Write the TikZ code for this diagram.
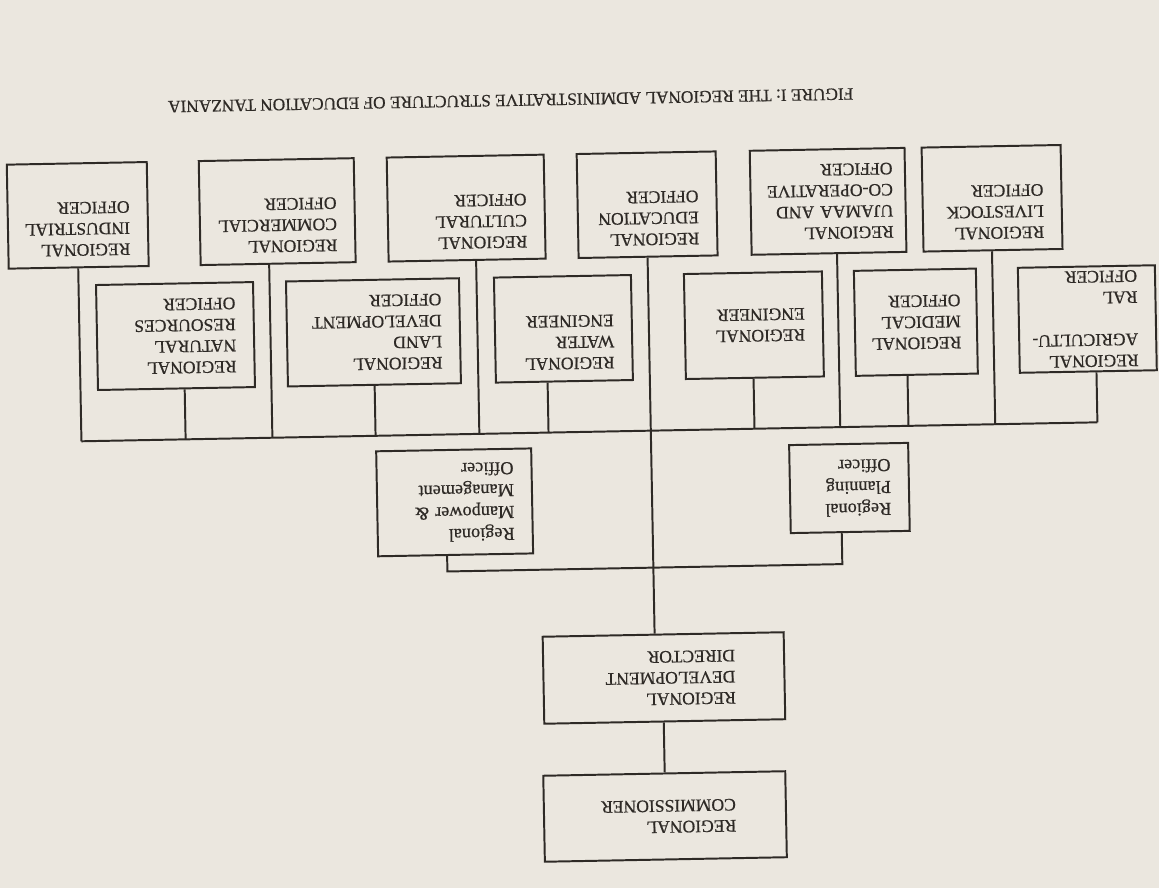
\documentclass[tikz,border=0pt]{standalone}
\usepackage{fontspec}
\setmainfont{Liberation Serif}[UprightFeatures={FakeBold=0.6}]
\definecolor{paper}{HTML}{EBE7DF}
\definecolor{ink}{HTML}{2E2A26}

\begin{document}
\begin{tikzpicture}[x=0.25mm,y=-0.25mm,
  ofc/.style={draw=ink,line width=1.4pt,rotate=181.07,align=left,text=ink,
    inner xsep=4.5mm,inner ysep=0pt,minimum height=26mm,
    font=\fontsize{12.5}{15}\selectfont},
  lowofc/.style={ofc,font=\fontsize{13}{15.6}\selectfont},
  link/.style={draw=ink,line width=1.4pt}]
\fill[paper] (0,0) rectangle (1159,888);
\useasboundingbox (0,0) rectangle (1159,888);
\begin{scope}[rotate around={1.07:(580,440)}]
\node[rotate=181.07,text=ink,font=\fontsize{12.3}{14}\selectfont] (title) at (517,99)
  {FIGURE I:\ THE REGIONAL ADMINISTRATIVE STRUCTURE OF EDUCATION TANZANIA};
\node[ofc,text width=26mm] (ind) at (82,206) {REGIONAL\\INDUSTRIAL\\OFFICER\\\strut};
\node[ofc,text width=29.75mm] (com) at (281.5,206) {REGIONAL\\COMMERCIAL\\OFFICER\\\strut};
\node[ofc,text width=30.25mm] (cul) at (470.5,206) {REGIONAL\\CULTURAL\\OFFICER\\\strut};
\node[ofc,text width=25.75mm] (edu) at (651.5,206) {REGIONAL\\EDUCATION\\OFFICER\\\strut};
\node[ofc,text width=32.5mm,inner xsep=3.1mm] (uja) at (832.5,206) {REGIONAL\\UJAMAA AND\\CO-OPERATIVE\\OFFICER};
\node[ofc,text width=25.75mm] (liv) at (996.5,206) {REGIONAL\\LIVESTOCK\\OFFICER\\\strut};
\node[ofc,text width=30.25mm,minimum height=26.25mm] (nat) at (177.5,328.5) {REGIONAL\\NATURAL\\RESOURCES\\OFFICER};
\node[ofc,text width=34.25mm,minimum height=26.25mm] (lnd) at (375.5,328.5) {REGIONAL\\LAND\\DEVELOPMENT\\OFFICER};
\node[ofc,text width=25.25mm,minimum height=26.25mm] (wat) at (565.5,328.5) {REGIONAL\\WATER\\ENGINEER\\\strut};
\node[ofc,text width=25.5mm,minimum height=26.25mm] (eng) at (756,328.5) {REGIONAL\\ENGINEER};
\node[ofc,text width=22.5mm,inner xsep=4mm,minimum height=26.25mm] (med) at (918,328.5) {REGIONAL\\MEDICAL\\OFFICER};
\node[ofc,text width=25.25mm,minimum height=26.25mm] (agr) at (1089.5,328.5) {REGIONAL\\AGRICULTU-\\RAL\\OFFICER};
\node[lowofc,text width=29.75mm,minimum height=26.25mm] (man) at (453.5,500) {Regional\\Manpower \&\\Management\\Officer};
\node[lowofc,text width=20.75mm,minimum height=22mm] (pln) at (848.5,493) {Regional\\Planning\\Officer};
\node[ofc,text width=35.75mm,inner xsep=12.25mm,minimum height=21.75mm] (rdd) at (659.5,679.5) {REGIONAL\\DEVELOPMENT\\DIRECTOR};
\node[ofc,text width=35.5mm,inner xsep=12.5mm,minimum height=21.5mm] (rc) at (658,818) {REGIONAL\\COMMISSIONER};
\coordinate (s-ind) at (81.5,432);
\coordinate (s-nat) at (185.7,432);
\coordinate (s-com) at (272.5,432);
\coordinate (s-lnd) at (375.7,432);
\coordinate (s-cul) at (479.5,432);
\coordinate (s-wat) at (548.7,432);
\coordinate (s-edu) at (651,432);
\coordinate (s-eng) at (754.7,432);
\coordinate (s-uja) at (840.5,432);
\coordinate (s-med) at (908.7,432);
\coordinate (s-liv) at (995.5,432);
\coordinate (s-agr) at (1097.7,432);
\coordinate (s-man) at (445,569);
\coordinate (s-pln) at (840,569);
\coordinate (s-rc) at (658.5,750);
\draw[link] (s-ind) -- (s-agr);
\foreach \b in {ind,nat,com,lnd,cul,wat,edu,eng,uja,med,liv,agr}
  \draw[link] (\b.north -| s-\b) -- (s-\b);
\draw[link] (s-edu) -- (s-edu |- rdd.south);
\draw[link] (man.north -| s-man) -- (s-man) -- (s-pln) -- (pln.north -| s-pln);
\draw[link] (s-rc |- rdd.north) -- (s-rc |- rc.south);
\end{scope}
\end{tikzpicture}
\end{document}
